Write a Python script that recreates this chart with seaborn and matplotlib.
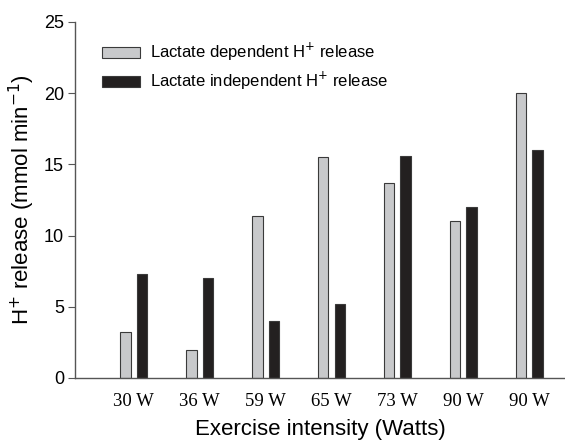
import matplotlib
matplotlib.use("Agg")
import matplotlib.pyplot as plt
import seaborn as sns
import pandas as pd

categories = ["30 W", "36 W", "59 W", "65 W", "73 W", "90 W", "90 W "]
tick_labels = ["30 W", "36 W", "59 W", "65 W", "73 W", "90 W", "90 W"]
lactate_dependent = [3.2, 2.0, 11.4, 15.5, 13.7, 11.0, 20.0]
lactate_independent = [7.3, 7.0, 4.0, 5.2, 15.6, 12.0, 16.0]
series_names = ["Lactate dependent H$^{+}$ release", "Lactate independent H$^{+}$ release"]

rows = []
for c, v in zip(categories, lactate_dependent):
    rows.append({"cat": c, "val": v, "series": series_names[0]})
for c, v in zip(categories, lactate_independent):
    rows.append({"cat": c, "val": v, "series": series_names[1]})
df = pd.DataFrame(rows)

sns.set_theme(style="ticks")
plt.rcParams["font.family"] = ["Liberation Sans", "DejaVu Sans"]
plt.rcParams["text.color"] = "black"
plt.rcParams["axes.labelcolor"] = "black"
plt.rcParams["xtick.color"] = "black"
plt.rcParams["ytick.color"] = "black"

fig = plt.figure(figsize=(5.65, 4.43), dpi=100)
ax = fig.add_axes([75/565, 1 - 378/443, 1 - 75/565, (378 - 22)/443])

sns.barplot(data=df, x="cat", y="val", hue="series", order=categories,
            palette=["#c8c9cb", "#231f20"], width=0.5, gap=0.37,
            edgecolor="#3a3a3a", linewidth=0.8, ax=ax, legend=True)

ax.set_ylim(0, 25)
ax.set_yticks([0, 5, 10, 15, 20, 25])
ax.set_xlim(-0.894, 6.545)
ax.set_xticks(range(len(categories)))
ax.set_xticklabels(tick_labels, family=["Liberation Serif", "DejaVu Serif"], fontsize=13.5)
ax.tick_params(axis="x", length=0, pad=11)
ax.tick_params(axis="y", length=5, width=0.8, labelsize=13, color="#555555", pad=3)
for s in ["top", "right"]:
    ax.spines[s].set_visible(False)
for s in ["left", "bottom"]:
    ax.spines[s].set_color("#555555")
    ax.spines[s].set_linewidth(1.0)

ax.set_xlabel("Exercise intensity (Watts)", fontsize=16, labelpad=6)
ax.set_ylabel("H$^{+}$ release (mmol min$^{-1}$)", fontsize=16, labelpad=5)

leg = ax.legend(loc="upper left", bbox_to_anchor=(0.041, 0.965), frameon=False,
                fontsize=12, handlelength=2.3, handleheight=0.6, labelspacing=0.4,
                handletextpad=0.6, borderaxespad=0)

fig.savefig("out.png", dpi=100)
